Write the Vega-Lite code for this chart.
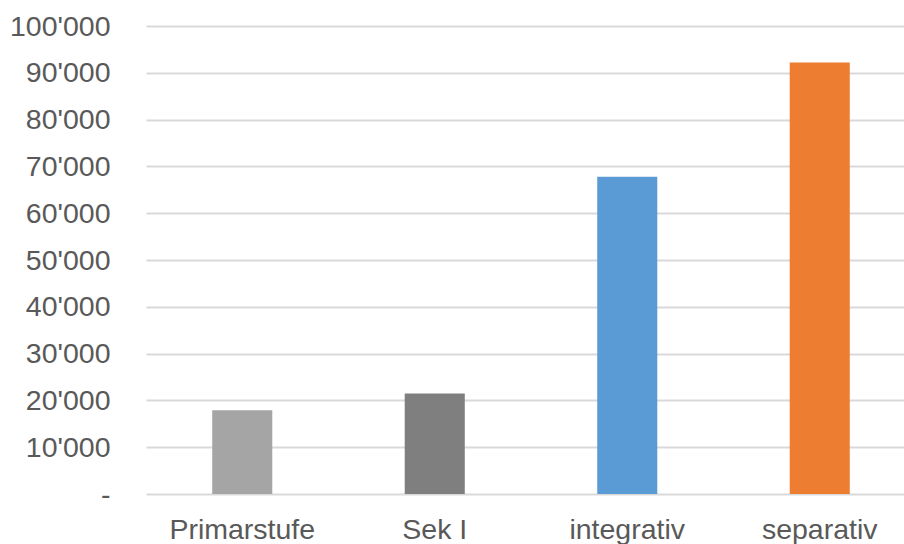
{
  "$schema": "https://vega.github.io/schema/vega-lite/v6.json",
  "width": 770,
  "height": 468,
  "autosize": {"type": "none"},
  "padding": {"left": 146, "top": 26, "right": 0, "bottom": 50},
  "background": "white",
  "config": {"view": {"stroke": null}, "font": "Liberation Sans"},
  "data": {
    "values": [
      {"kategorie": "Primarstufe", "wert": 17900},
      {"kategorie": "Sek I", "wert": 21500},
      {"kategorie": "integrativ", "wert": 67800},
      {"kategorie": "separativ", "wert": 92200}
    ]
  },
  "mark": {"type": "bar"},
  "encoding": {
    "x": {
      "field": "kategorie",
      "type": "nominal",
      "sort": null,
      "scale": {"paddingInner": 0.688, "paddingOuter": 0.344},
      "axis": {
        "title": null,
        "labelAngle": 0,
        "labelFontSize": 28.5,
        "labelColor": "#595959",
        "labelPadding": 21,
        "ticks": false,
        "domain": false,
        "grid": false
      }
    },
    "y": {
      "field": "wert",
      "type": "quantitative",
      "scale": {"domain": [0, 100000], "nice": false},
      "axis": {
        "title": null,
        "values": [0, 10000, 20000, 30000, 40000, 50000, 60000, 70000, 80000, 90000, 100000],
        "labelExpr": "datum.value == 0 ? '-\u2007' : replace(format(datum.value, ','), regexp(',', 'g'), \"'\")",
        "labelFontSize": 28.5,
        "labelColor": "#595959",
        "labelPadding": 36,
        "ticks": false,
        "domain": false,
        "grid": true,
        "gridColor": "#d9d9d9",
        "gridWidth": 2
      }
    },
    "color": {
      "field": "kategorie",
      "type": "nominal",
      "legend": null,
      "scale": {
        "domain": ["Primarstufe", "Sek I", "integrativ", "separativ"],
        "range": ["#a5a5a5", "#7f7f7f", "#5b9bd5", "#ed7d31"]
      }
    }
  }
}
